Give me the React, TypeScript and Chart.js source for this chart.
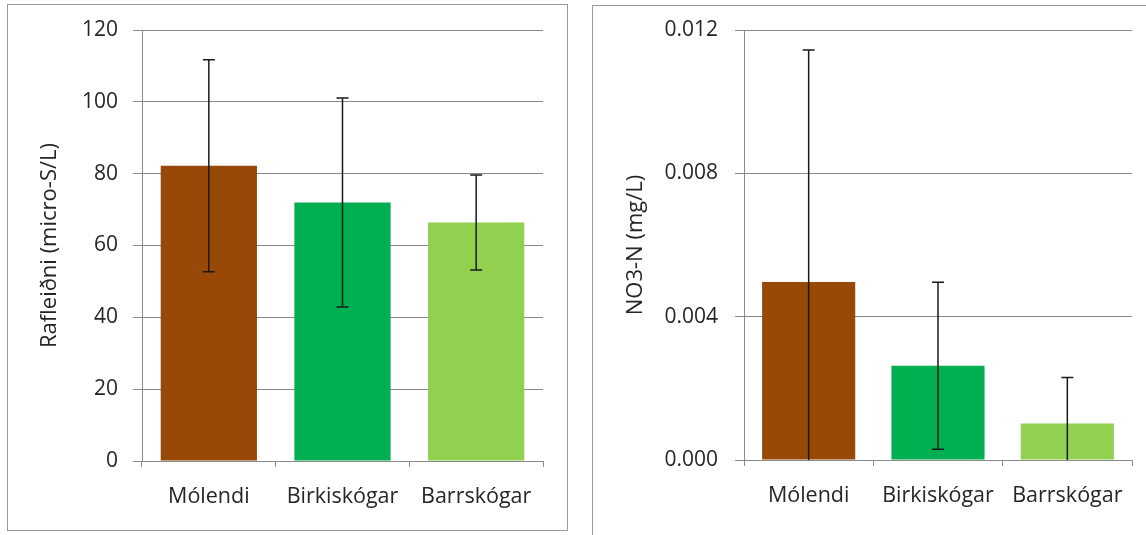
import React, { useEffect, useRef } from "react";
import { Chart, registerables } from "chart.js";

Chart.register(...registerables);

const categories = ["Mólendi", "Birkiskógar", "Barrskógar"];
const barColors = ["#984807", "#00B050", "#92D050"];

const condValues = [82.2, 72.0, 66.4];
const condErrors = [29.5, 29.1, 13.2];
const condTicks = [0, 20, 40, 60, 80, 100, 120];

const no3Values = [0.00497, 0.00263, 0.00102];
const no3Errors = [0.00647, 0.00233, 0.00128];
const no3Ticks = [0, 0.004, 0.008, 0.012];

const FONT = "'Open Sans', sans-serif";
const TEXT = "#262626";
const GRID = "#8a8a8a";

const errorBarPlugin = {
  id: "errorBars",
  afterDatasetsDraw(chart: any, _args: any, opts: any) {
    const errs: number[] = opts.errors || [];
    const vals: number[] = chart.data.datasets[0].data;
    const xs = chart.scales.x;
    const ys = chart.scales.y;
    const ctx = chart.ctx;
    ctx.save();
    ctx.strokeStyle = "#1a1a1a";
    ctx.lineWidth = 1.5;
    vals.forEach((v, i) => {
      const e = errs[i];
      const x = xs.getPixelForValue(i);
      const top = v + e;
      const lowRaw = v - e;
      const clipped = lowRaw < ys.min;
      const low = clipped ? ys.min : lowRaw;
      const yt = ys.getPixelForValue(top);
      const yb = ys.getPixelForValue(low);
      ctx.beginPath();
      ctx.moveTo(x, yt);
      ctx.lineTo(x, yb);
      ctx.moveTo(x - 6, yt);
      ctx.lineTo(x + 6, yt);
      if (!clipped) {
        ctx.moveTo(x - 6, yb);
        ctx.lineTo(x + 6, yb);
      }
      ctx.stroke();
    });
    ctx.restore();
  },
};

type Cfg = {
  values: number[];
  errors: number[];
  ticks: number[];
  title: string;
  decimals: number;
  yWidth: number;
  xHeight: number;
  padTop: number;
  padRight: number;
  tickPad: number;
  titlePad: number;
};

function BarPanel(props: Cfg & { width: number; height: number }) {
  const ref = useRef<HTMLCanvasElement | null>(null);
  useEffect(() => {
    if (!ref.current) return;
    const p = props;
    const chart = new Chart(ref.current, {
      type: "bar",
      data: {
        labels: categories,
        datasets: [
          {
            data: p.values,
            backgroundColor: barColors,
            borderWidth: 0,
            categoryPercentage: 1,
            barPercentage: 0.72,
          },
        ],
      },
      options: {
        animation: false,
        responsive: false,
        maintainAspectRatio: false,
        layout: { padding: { top: 0, right: p.padRight, left: 0, bottom: 0 } },
        plugins: {
          legend: { display: false },
          tooltip: { enabled: false },
          errorBars: { errors: p.errors },
        } as any,
        scales: {
          x: {
            grid: {
              offset: true,
              drawOnChartArea: false,
              drawTicks: true,
              tickLength: 6,
              color: GRID,
            },
            border: { color: GRID, width: 1 },
            ticks: {
              color: TEXT,
              font: { family: FONT, size: 21.5 },
              padding: 17,
              maxRotation: 0,
              autoSkip: false,
            },
            afterFit: (s: any) => {
              s.height = p.xHeight;
              s.paddingLeft = 0;
              s.paddingRight = 0;
            },
          },
          y: {
            min: p.ticks[0],
            max: p.ticks[p.ticks.length - 1],
            afterBuildTicks: (s: any) => {
              s.ticks = p.ticks.map((v) => ({ value: v }));
            },
            grid: { color: GRID, tickLength: 9, lineWidth: 1 },
            border: { color: GRID, width: 1 },
            ticks: {
              color: TEXT,
              font: { family: FONT, size: 21 },
              padding: p.tickPad,
              callback: (v: any) => Number(v).toFixed(p.decimals),
            },
            title: {
              display: true,
              text: p.title,
              color: TEXT,
              font: { family: FONT, size: 22 },
              padding: { top: p.titlePad, bottom: 0 },
            },
            afterFit: (s: any) => {
              s.width = p.yWidth;
              s.paddingTop = p.padTop;
              s.paddingBottom = 0;
            },
          },
        },
      },
      plugins: [errorBarPlugin],
    });
    return () => chart.destroy();
  }, []);
  return <canvas ref={ref} width={props.width} height={props.height} style={{ display: "block" }} />;
}

export default function App() {
  return (
    <div
      style={{
        position: "fixed",
        left: 0,
        top: 0,
        width: 1146,
        height: 535,
        background: "#fff",
        overflow: "hidden",
      }}
    >
      <div
        style={{
          position: "absolute",
          left: 7,
          top: 4,
          width: 559,
          height: 525,
          border: "1px solid #9a9a9a",
        }}
      >
        <BarPanel
          width={559}
          height={525}
          values={condValues}
          errors={condErrors}
          ticks={condTicks}
          title="Rafleiðni (micro-S/L)"
          decimals={0}
          yWidth={134}
          xHeight={69}
          padTop={25}
          padRight={24}
          tickPad={15}
          titlePad={29}
        />
      </div>
      <div
        style={{
          position: "absolute",
          left: 592,
          top: 5,
          width: 560,
          height: 540,
          border: "1px solid #9a9a9a",
        }}
      >
        <BarPanel
          width={553}
          height={524}
          values={no3Values}
          errors={no3Errors}
          ticks={no3Ticks}
          title="NO3-N (mg/L)"
          decimals={3}
          yWidth={151}
          xHeight={70}
          padTop={24}
          padRight={14}
          tickPad={17}
          titlePad={30}
        />
      </div>
    </div>
  );
}
